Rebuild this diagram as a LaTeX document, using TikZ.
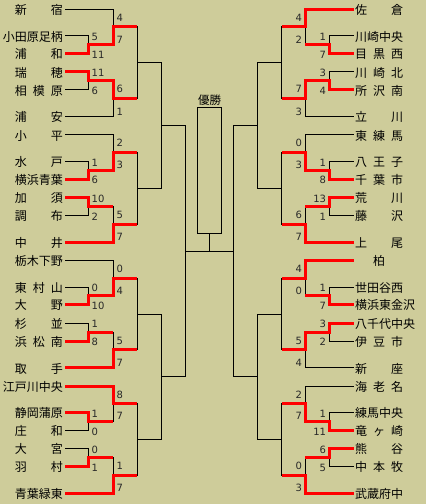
\documentclass[tikz,border=0pt]{standalone}
\usepackage{fontspec}
\newfontfamily\jpf{Noto Sans CJK JP}
\newfontfamily\numf{DejaVu Sans}
\definecolor{bgc}{RGB}{206,204,154}
\definecolor{scc}{RGB}{40,40,40}
\newcommand\tw[1]{\makebox[48pt]{#1}}
\begin{document}
\begin{tikzpicture}[x=1pt,y=-1pt,
  ln/.style={line width=1pt, black, line cap=rect},
  win/.style={line width=3pt, red},
  nameL/.style={anchor=base east, inner sep=0pt, font=\jpf\fontsize{12pt}{12pt}\selectfont, xshift=-2pt, yshift=-5.2pt},
  nameR/.style={anchor=base west, inner sep=0pt, font=\jpf\fontsize{12pt}{12pt}\selectfont, xshift=1.3pt, yshift=-5.2pt},
  scL/.style={anchor=base west, inner sep=0pt, font=\numf\fontsize{10pt}{10pt}\selectfont, text=scc, xshift=3.2pt},
  scR/.style={anchor=base east, inner sep=0pt, font=\numf\fontsize{10pt}{10pt}\selectfont, text=scc, xshift=-3pt},
  champbox/.style={draw, line width=1pt, fill=bgc, minimum width=24.4pt, minimum height=126pt, inner sep=0pt, anchor=north}
]
\useasboundingbox (0,0) rectangle (426,504);
\fill[bgc] (0,0) rectangle (426,504);

% ---------- left side ----------
\foreach \g/\tA/\tB/\tC/\tD/\tE/\tF/\sA/\sB/\sC/\sD/\cT/\cB/\dT/\dB in {
 0/{\tw{新\hfill 宿}}/{小田原足柄}/{\tw{浦\hfill 和}}/{\tw{瑞\hfill 穂}}/{\tw{相\hfill 模\hfill 原}}/{\tw{浦\hfill 安}}/5/11/11/6/4/7/6/1,
 1/{\tw{小\hfill 平}}/{\tw{水\hfill 戸}}/{横浜青葉}/{\tw{加\hfill 須}}/{\tw{調\hfill 布}}/{\tw{中\hfill 井}}/1/6/10/2/2/3/5/7,
 2/{栃木下野}/{\tw{東\hfill 村\hfill 山}}/{\tw{大\hfill 野}}/{\tw{杉\hfill 並}}/{\tw{浜\hfill 松\hfill 南}}/{\tw{取\hfill 手}}/0/10/1/8/0/4/5/7,
 3/{江戸川中央}/{静岡蒲原}/{\tw{庄\hfill 和}}/{\tw{大\hfill 宮}}/{\tw{羽\hfill 村}}/{青葉緑東}/1/0/0/1/8/7/1/7}
{
  \pgfmathsetmacro\bs{9.3+125.6*\g}
  \pgfmathsetmacro\ya{\bs}
  \pgfmathsetmacro\yb{\bs+26.5}
  \pgfmathsetmacro\yc{\bs+44.2}
  \pgfmathsetmacro\yd{\bs+62.5}
  \pgfmathsetmacro\ye{\bs+80.5}
  \pgfmathsetmacro\yf{\bs+107.35}
  \pgfmathsetmacro\yA{(\yb+\yc)/2}
  \pgfmathsetmacro\yB{(\yd+\ye)/2}
  \pgfmathsetmacro\yC{(\ya+\yA)/2}
  \pgfmathsetmacro\yD{(\yB+\yf)/2}
  \pgfmathsetmacro\yE{(\yC+\yD)/2}
  \coordinate (L\g t0) at (65,\ya);
  \coordinate (L\g t1) at (65,\yb);
  \coordinate (L\g t2) at (65,\yc);
  \coordinate (L\g t3) at (65,\yd);
  \coordinate (L\g t4) at (65,\ye);
  \coordinate (L\g t5) at (65,\yf);
  \coordinate (L\g p1) at (88.3,\yb);
  \coordinate (L\g p2) at (88.3,\yc);
  \coordinate (L\g p3) at (88.3,\yd);
  \coordinate (L\g p4) at (88.3,\ye);
  \coordinate (L\g r0) at (113.3,\ya);
  \coordinate (L\g r5) at (113.3,\yf);
  \coordinate (L\g A) at (88.3,\yA);
  \coordinate (L\g Ar) at (113.3,\yA);
  \coordinate (L\g B) at (88.3,\yB);
  \coordinate (L\g Br) at (113.3,\yB);
  \coordinate (L\g C) at (113.3,\yC);
  \coordinate (L\g Cr) at (137.3,\yC);
  \coordinate (L\g D) at (113.3,\yD);
  \coordinate (L\g Dr) at (137.3,\yD);
  \coordinate (L\g E) at (137.3,\yE);
  \coordinate (L\g Er) at (161.7,\yE);
  \draw[ln] (L\g t0) -- (L\g r0) -- (L\g Ar) -- (L\g A);
  \draw[ln] (L\g t1) -- (L\g p1) -- (L\g p2) -- (L\g t2);
  \draw[ln] (L\g t3) -- (L\g p3) -- (L\g p4) -- (L\g t4);
  \draw[ln] (L\g t5) -- (L\g r5) -- (L\g Br) -- (L\g B);
  \draw[ln] (L\g C) -- (L\g Cr) -- (L\g Dr) -- (L\g D);
  \draw[ln] (L\g E) -- (L\g Er);
  \node[nameL] (L\g n0) at (L\g t0) {\tA};
  \node[nameL] (L\g n1) at (L\g t1) {\tB};
  \node[nameL] (L\g n2) at (L\g t2) {\tC};
  \node[nameL] (L\g n3) at (L\g t3) {\tD};
  \node[nameL] (L\g n4) at (L\g t4) {\tE};
  \node[nameL] (L\g n5) at (L\g t5) {\tF};
  \node[scL, yshift=-4.7pt] (L\g s1) at (L\g p1) {\sA};
  \node[scL, yshift=-4.7pt] (L\g s2) at (L\g p2) {\sB};
  \node[scL, yshift=-4.7pt] (L\g s3) at (L\g p3) {\sC};
  \node[scL, yshift=-4.7pt] (L\g s4) at (L\g p4) {\sD};
  \node[scL, yshift=-12pt] (L\g c0) at (L\g r0) {\cT};
  \node[scL, yshift=1.5pt] (L\g cA) at (L\g Ar) {\cB};
  \node[scL, yshift=-12pt] (L\g dB) at (L\g Br) {\dT};
  \node[scL, yshift=1.5pt] (L\g d5) at (L\g r5) {\dB};
}

% ---------- right side ----------
\foreach \g/\tA/\tB/\tC/\tD/\tE/\tF/\sA/\sB/\sC/\sD/\cT/\cB/\dT/\dB in {
 0/{\tw{佐\hfill 倉}}/{川崎中央}/{\tw{目\hfill 黒\hfill 西}}/{\tw{川\hfill 崎\hfill 北}}/{\tw{所\hfill 沢\hfill 南}}/{\tw{立\hfill 川}}/1/7/3/4/4/2/7/3,
 1/{\tw{東\hfill 練\hfill 馬}}/{\tw{八\hfill 王\hfill 子}}/{\tw{千\hfill 葉\hfill 市}}/{\tw{荒\hfill 川}}/{\tw{藤\hfill 沢}}/{\tw{上\hfill 尾}}/1/8/13/1/0/3/6/7,
 2/{\tw{\hfill 柏\hfill}}/{世田谷西}/{横浜東金沢}/{八千代中央}/{\tw{伊\hfill 豆\hfill 市}}/{\tw{新\hfill 座}}/1/7/3/2/4/0/5/4,
 3/{\tw{海\hfill 老\hfill 名}}/{練馬中央}/{\tw{竜\hfill ヶ\hfill 崎}}/{\tw{熊\hfill 谷}}/{\tw{中\hfill 本\hfill 牧}}/{武蔵府中}/1/11/6/5/2/7/0/3}
{
  \pgfmathsetmacro\bs{9.3+125.6*\g}
  \pgfmathsetmacro\ya{\bs}
  \pgfmathsetmacro\yb{\bs+26.5}
  \pgfmathsetmacro\yc{\bs+44.2}
  \pgfmathsetmacro\yd{\bs+62.5}
  \pgfmathsetmacro\ye{\bs+80.5}
  \pgfmathsetmacro\yf{\bs+107.35}
  \pgfmathsetmacro\yA{(\yb+\yc)/2}
  \pgfmathsetmacro\yB{(\yd+\ye)/2}
  \pgfmathsetmacro\yC{(\ya+\yA)/2}
  \pgfmathsetmacro\yD{(\yB+\yf)/2}
  \pgfmathsetmacro\yE{(\yC+\yD)/2}
  \coordinate (R\g t0) at (353.7,\ya);
  \coordinate (R\g t1) at (353.7,\yb);
  \coordinate (R\g t2) at (353.7,\yc);
  \coordinate (R\g t3) at (353.7,\yd);
  \coordinate (R\g t4) at (353.7,\ye);
  \coordinate (R\g t5) at (353.7,\yf);
  \coordinate (R\g p1) at (329.3,\yb);
  \coordinate (R\g p2) at (329.3,\yc);
  \coordinate (R\g p3) at (329.3,\yd);
  \coordinate (R\g p4) at (329.3,\ye);
  \coordinate (R\g r0) at (305.3,\ya);
  \coordinate (R\g r5) at (305.3,\yf);
  \coordinate (R\g A) at (329.3,\yA);
  \coordinate (R\g Ar) at (305.3,\yA);
  \coordinate (R\g B) at (329.3,\yB);
  \coordinate (R\g Br) at (305.3,\yB);
  \coordinate (R\g C) at (305.3,\yC);
  \coordinate (R\g Cr) at (281.5,\yC);
  \coordinate (R\g D) at (305.3,\yD);
  \coordinate (R\g Dr) at (281.5,\yD);
  \coordinate (R\g E) at (281.5,\yE);
  \coordinate (R\g Er) at (257.3,\yE);
  \draw[ln] (R\g t0) -- (R\g r0) -- (R\g Ar) -- (R\g A);
  \draw[ln] (R\g t1) -- (R\g p1) -- (R\g p2) -- (R\g t2);
  \draw[ln] (R\g t3) -- (R\g p3) -- (R\g p4) -- (R\g t4);
  \draw[ln] (R\g t5) -- (R\g r5) -- (R\g Br) -- (R\g B);
  \draw[ln] (R\g C) -- (R\g Cr) -- (R\g Dr) -- (R\g D);
  \draw[ln] (R\g E) -- (R\g Er);
  \node[nameR] (R\g n0) at (R\g t0) {\tA};
  \node[nameR] (R\g n1) at (R\g t1) {\tB};
  \node[nameR] (R\g n2) at (R\g t2) {\tC};
  \node[nameR] (R\g n3) at (R\g t3) {\tD};
  \node[nameR] (R\g n4) at (R\g t4) {\tE};
  \node[nameR] (R\g n5) at (R\g t5) {\tF};
  \node[scR, yshift=-4.7pt] (R\g s1) at (R\g p1) {\sA};
  \node[scR, yshift=-4.7pt] (R\g s2) at (R\g p2) {\sB};
  \node[scR, yshift=-4.7pt] (R\g s3) at (R\g p3) {\sC};
  \node[scR, yshift=-4.7pt] (R\g s4) at (R\g p4) {\sD};
  \node[scR, yshift=-12pt] (R\g c0) at (R\g r0) {\cT};
  \node[scR, yshift=1.5pt] (R\g cA) at (R\g Ar) {\cB};
  \node[scR, yshift=-12pt] (R\g dB) at (R\g Br) {\dT};
  \node[scR, yshift=1.5pt] (R\g d5) at (R\g r5) {\dB};
}

% ---------- later rounds ----------
\coordinate (LS0) at (161.7,125.65);
\coordinate (LS0r) at (185.3,125.65);
\coordinate (LS1) at (161.7,376.85);
\coordinate (LS1r) at (185.3,376.85);
\coordinate (LF) at (185.3,251.25);
\coordinate (RS0) at (257.3,125.65);
\coordinate (RS0r) at (233.3,125.65);
\coordinate (RS1) at (257.3,376.85);
\coordinate (RS1r) at (233.3,376.85);
\coordinate (RF) at (233.3,251.25);
\draw[ln] (L0Er) -- (L1Er);
\draw[ln] (L2Er) -- (L3Er);
\draw[ln] (R0Er) -- (R1Er);
\draw[ln] (R2Er) -- (R3Er);
\draw[ln] (LS0) -- (LS0r) -- (LS1r) -- (LS1);
\draw[ln] (RS0) -- (RS0r) -- (RS1r) -- (RS1);
\draw[ln] (LF) -- (RF);
\node[champbox] (champ) at (209.5,107.3) {};
\draw[ln] (champ.south) -- (champ.south |- LF);
\node[inner sep=0pt, font=\jpf\fontsize{11.5pt}{11.5pt}\selectfont] (title) at (209.5,100.6) {優勝};

% ---------- winning paths (red) ----------
\draw[win] (L0t2) -- (L0p2) -- (L0A) -- (L0Ar) -- (L0C) -- (L0Cr);
\draw[win] (L0t3) -- (L0p3) -- (L0B) -- (L0Br) -- (L0D) -- (L0Dr);
\draw[win] (L1t2) -- (L1p2) -- (L1A) -- (L1Ar) -- (L1C) -- (L1Cr);
\draw[win] (L1t3) -- (L1p3) -- (L1B) -- (L1Br);
\draw[win] (L1t5) -- (L1r5) -- (L1D) -- (L1Dr);
\draw[win] (L2t2) -- (L2p2) -- (L2A) -- (L2Ar) -- (L2C) -- (L2Cr);
\draw[win] (L2t4) -- (L2p4) -- (L2B) -- (L2Br);
\draw[win] (L2t5) -- (L2r5) -- (L2D) -- (L2Dr);
\draw[win] (L3t0) -- (L3r0) -- (L3C) -- (L3Cr);
\draw[win] (L3t1) -- (L3p1) -- (L3A) -- (L3Ar);
\draw[win] (L3t4) -- (L3p4) -- (L3B) -- (L3Br);
\draw[win] (L3t5) -- (L3r5) -- (L3D) -- (L3Dr);

\draw[win] (R0t0) -- (R0r0) -- (R0C) -- (R0Cr);
\draw[win] (R0t2) -- (R0p2) -- (R0A) -- (R0Ar);
\draw[win] (R0t4) -- (R0p4) -- (R0B) -- (R0Br) -- (R0D) -- (R0Dr);
\draw[win] (R1t2) -- (R1p2) -- (R1A) -- (R1Ar) -- (R1C) -- (R1Cr);
\draw[win] (R1t3) -- (R1p3) -- (R1B) -- (R1Br);
\draw[win] (R1t5) -- (R1r5) -- (R1D) -- (R1Dr);
\draw[win] (R2t0) -- (R2r0) -- (R2C) -- (R2Cr);
\draw[win] (R2t2) -- (R2p2) -- (R2A) -- (R2Ar);
\draw[win] (R2t3) -- (R2p3) -- (R2B) -- (R2Br) -- (R2D) -- (R2Dr);
\draw[win] (R3t2) -- (R3p2) -- (R3A) -- (R3Ar) -- (R3C) -- (R3Cr);
\draw[win] (R3t3) -- (R3p3) -- (R3B) -- (R3Br);
\draw[win] (R3t5) -- (R3r5) -- (R3D) -- (R3Dr);
\end{tikzpicture}
\end{document}
